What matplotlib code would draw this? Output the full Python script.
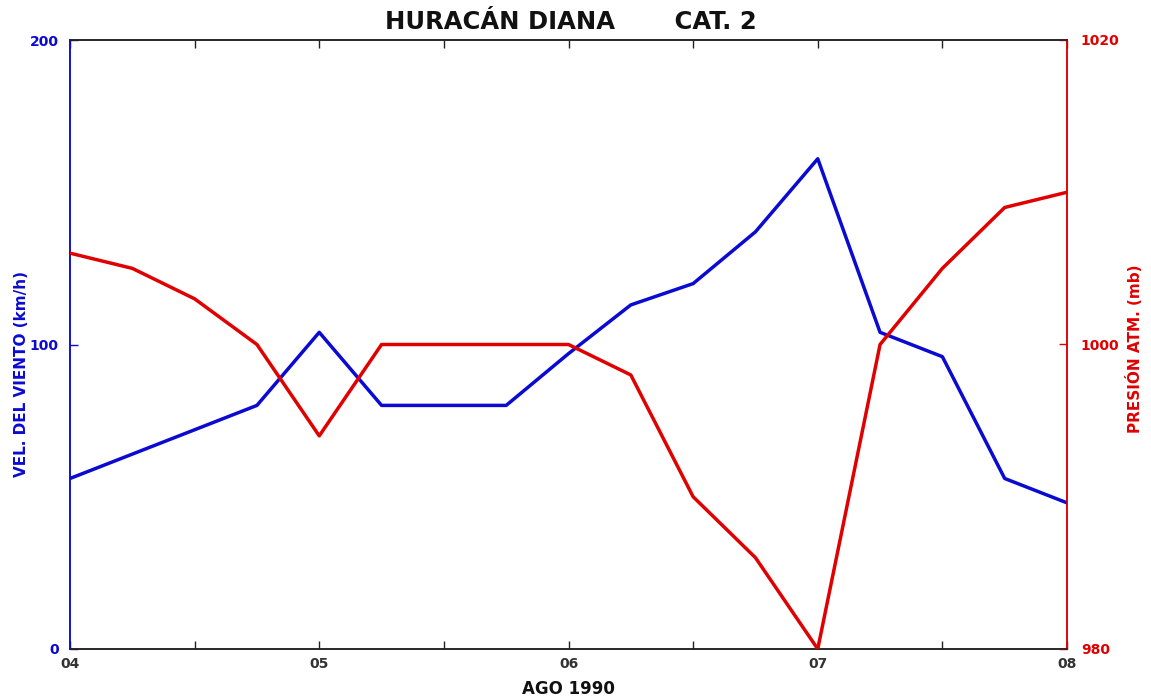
import matplotlib
matplotlib.use("Agg")
import matplotlib.pyplot as plt

# time in days of August 1990 (6-hourly)
days = [4.0, 4.25, 4.5, 4.75, 5.0, 5.25, 5.5, 5.75, 6.0,
        6.25, 6.5, 6.75, 7.0, 7.25, 7.5, 7.75, 8.0]
wind_kmh = [56, 64, 72, 80, 104, 80, 80, 80, 97,
            113, 120, 137, 161, 104, 96, 56, 48]
pressure_mb = [1006, 1005, 1003, 1000, 994, 1000, 1000, 1000, 1000,
               998, 990, 986, 980, 1000, 1005, 1009, 1010]

x_ticks = [4, 4.5, 5, 5.5, 6, 6.5, 7, 7.5, 8]
x_labels = ["04", "", "05", "", "06", "", "07", "", "08"]
wind_ticks = [0, 100, 200]
press_ticks = [980, 1000, 1020]

BLUE = "#0a0ad2"
RED = "#e00000"

plt.rcParams["font.family"] = ["DejaVu Sans"]
plt.rcParams["font.weight"] = "bold"

fig = plt.figure(figsize=(11.51, 7.0), dpi=100)
ax = fig.add_axes([70 / 1151, 51 / 700, 997 / 1151, 609 / 700])
ax2 = ax.twinx()

ax.plot(days, wind_kmh, color=BLUE, linewidth=2.5, zorder=3)
ax2.plot(days, pressure_mb, color=RED, linewidth=2.5, zorder=3)

ax.set_xlim(4, 8)
ax.set_ylim(0, 200)
ax2.set_ylim(980, 1020)

ax.set_xticks(x_ticks)
ax.set_xticklabels(x_labels, fontsize=10, fontweight="bold", color="#333333")
ax.set_yticks(wind_ticks)
ax.set_yticklabels([str(v) for v in wind_ticks], fontsize=10,
                   fontweight="bold", color=BLUE)
ax2.set_yticks(press_ticks)
ax2.set_yticklabels([str(v) for v in press_ticks], fontsize=10,
                    fontweight="bold", color=RED)

ax.tick_params(axis="x", direction="in", length=6, width=1, top=True,
               pad=6, colors="#222222", labelcolor="#333333")
ax.tick_params(axis="y", direction="in", length=6, width=1,
               color=BLUE, pad=8)
ax2.tick_params(axis="y", direction="in", length=6, width=1,
                color=RED, pad=10)

for a in (ax, ax2):
    a.spines["top"].set_color("#222222")
    a.spines["bottom"].set_color("#222222")
    a.spines["left"].set_color(BLUE)
    a.spines["right"].set_color(RED)
    for s in a.spines.values():
        s.set_linewidth(1.1)

ax.set_ylabel("VEL. DEL VIENTO (km/h)", color=BLUE, fontsize=11,
              fontweight="bold")
ax.yaxis.set_label_coords(-0.041, 0.452)
ax2.set_ylabel("PRESIÓN ATM. (mb)", color=RED, fontsize=11,
               fontweight="bold")
ax2.yaxis.set_label_coords(1.059, 0.493)
ax.set_xlabel("AGO 1990", fontsize=12, fontweight="bold", color="#111111",
              labelpad=6)

fig.text(571 / 1151, 1 - 22 / 700, "HURACÁN DIANA       CAT. 2",
         ha="center", va="center", fontsize=17.5, fontweight="bold",
         color="#111111")

fig.savefig("out.png", dpi=100)
plt.close(fig)
